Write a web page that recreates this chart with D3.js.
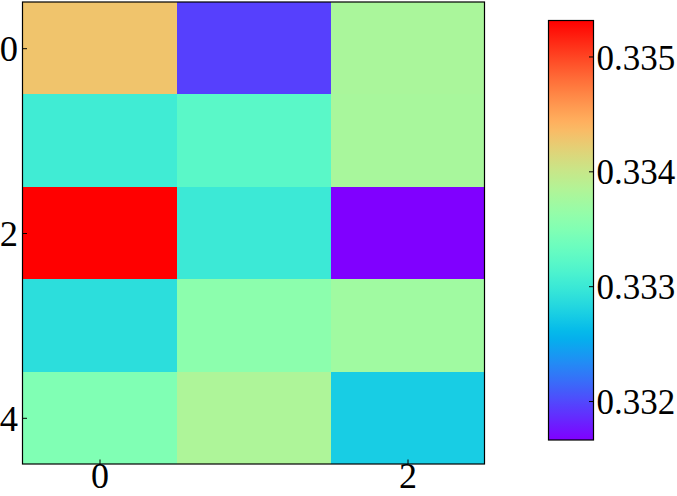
<!DOCTYPE html>
<html>
<head>
<meta charset="utf-8">
<script src="https://cdn.jsdelivr.net/npm/d3@7"></script>
<style>
html,body{margin:0;padding:0;background:#fff;}
svg{display:block;}
</style>
</head>
<body>
<svg id="chart" width="677" height="496"></svg>
<script>
// ---- data ----
const rowLabels = [0, 1, 2, 3, 4];
const colLabels = [0, 1, 2];
const row0 = [0.334293, 0.331956, 0.333790];
const row1 = [0.333034, 0.333219, 0.333777];
const row2 = [0.335313, 0.333004, 0.331661];
const row3 = [0.332889, 0.333577, 0.333720];
const row4 = [0.333491, 0.333819, 0.332749];
const xTickValues = [0, 2];
const yTickValues = [0, 2, 4];
const cbTickValues = [0.332, 0.333, 0.334, 0.335];

const matrix = [row0, row1, row2, row3, row4];
const cells = [];
matrix.forEach((row, i) => row.forEach((v, j) => cells.push({r: rowLabels[i], c: colLabels[j], v})));

// matplotlib "rainbow" colormap
function rainbow(t) {
  t = Math.max(0, Math.min(1, t));
  const cl = x => Math.max(0, Math.min(1, x));
  const r = cl(Math.abs(2 * t - 0.5));
  const g = cl(Math.sin(Math.PI * t));
  const b = cl(Math.cos(Math.PI * t / 2));
  return d3.rgb(r * 255, g * 255, b * 255).formatHex();
}

const FONT = "'Liberation Serif', 'Times New Roman', Times, serif";
const svg = d3.select("#chart");
const axisFont = 36.5;
const xFont = 36;
const cbFont = 35;

const plot = {x0: 22.5, x1: 484.5, y0: 2, y1: 464};
const vmin = d3.min(cells, d => d.v), vmax = d3.max(cells, d => d.v);
const norm = d3.scaleLinear().domain([vmin, vmax]).range([0, 1]);
const color = v => rainbow(norm(v));

const x = d3.scaleLinear().domain([-0.5, colLabels.length - 0.5]).range([plot.x0, plot.x1]);
const y = d3.scaleLinear().domain([-0.5, rowLabels.length - 0.5]).range([plot.y0, plot.y1]);

// cells
svg.append("g").selectAll("rect").data(cells).join("rect")
  .attr("x", d => x(d.c - 0.5))
  .attr("y", d => y(d.r - 0.5))
  .attr("width", d => x(d.c + 0.5) - x(d.c - 0.5))
  .attr("height", d => y(d.r + 0.5) - y(d.r - 0.5))
  .attr("fill", d => color(d.v))
  .attr("shape-rendering", "crispEdges");

function styleAxis(g, fs) {
  g.attr("font-family", FONT).attr("font-size", fs);
  g.select(".domain").remove();
  g.selectAll("line").attr("stroke", "#000").attr("stroke-width", 1);
  g.selectAll("text").attr("fill", "#000").attr("font-family", FONT).attr("font-size", fs);
}

// axes (ticks inward)
const xAxis = d3.axisBottom(x).tickValues(xTickValues).tickFormat(d3.format("d")).tickSizeInner(-4.5).tickSizeOuter(0);
const gx = svg.append("g").attr("transform", `translate(0,${plot.y1})`).call(xAxis);
styleAxis(gx, xFont);
gx.selectAll("text").attr("y", 24).attr("dy", 0);

const yAxis = d3.axisLeft(y).tickValues(yTickValues).tickFormat(d3.format("d")).tickSizeInner(-4.5).tickSizeOuter(0);
const gy = svg.append("g").attr("transform", `translate(${plot.x0},0)`).call(yAxis);
styleAxis(gy, axisFont);
gy.selectAll("text").attr("x", -4.5).attr("dy", "0.34em");

// frame
svg.append("rect").attr("x", plot.x0).attr("y", plot.y0)
  .attr("width", plot.x1 - plot.x0).attr("height", plot.y1 - plot.y0)
  .attr("fill", "none").attr("stroke", "#000").attr("stroke-width", 1.2);

// colorbar
const cb = {x0: 548.5, x1: 593.5, y0: 20.5, y1: 440};
const cy = d3.scaleLinear().domain([vmin, vmax]).range([cb.y1, cb.y0]);
const defs = svg.append("defs");
const grad = defs.append("linearGradient").attr("id", "cbgrad")
  .attr("x1", 0).attr("y1", 1).attr("x2", 0).attr("y2", 0);
grad.selectAll("stop").data(d3.range(0, 1.0001, 0.02)).join("stop")
  .attr("offset", d => d).attr("stop-color", d => rainbow(d));
svg.append("rect").attr("x", cb.x0).attr("y", cb.y0)
  .attr("width", cb.x1 - cb.x0).attr("height", cb.y1 - cb.y0)
  .attr("fill", "url(#cbgrad)");

const cAxis = d3.axisRight(cy).tickValues(cbTickValues).tickFormat(d3.format(".3f")).tickSizeInner(-4.5).tickSizeOuter(0);
const gc = svg.append("g").attr("transform", `translate(${cb.x1},0)`).call(cAxis);
styleAxis(gc, cbFont);
gc.selectAll("text").attr("x", 3).attr("dy", "0.36em");

svg.append("rect").attr("x", cb.x0).attr("y", cb.y0)
  .attr("width", cb.x1 - cb.x0).attr("height", cb.y1 - cb.y0)
  .attr("fill", "none").attr("stroke", "#000").attr("stroke-width", 1.2);
</script>
</body>
</html>
